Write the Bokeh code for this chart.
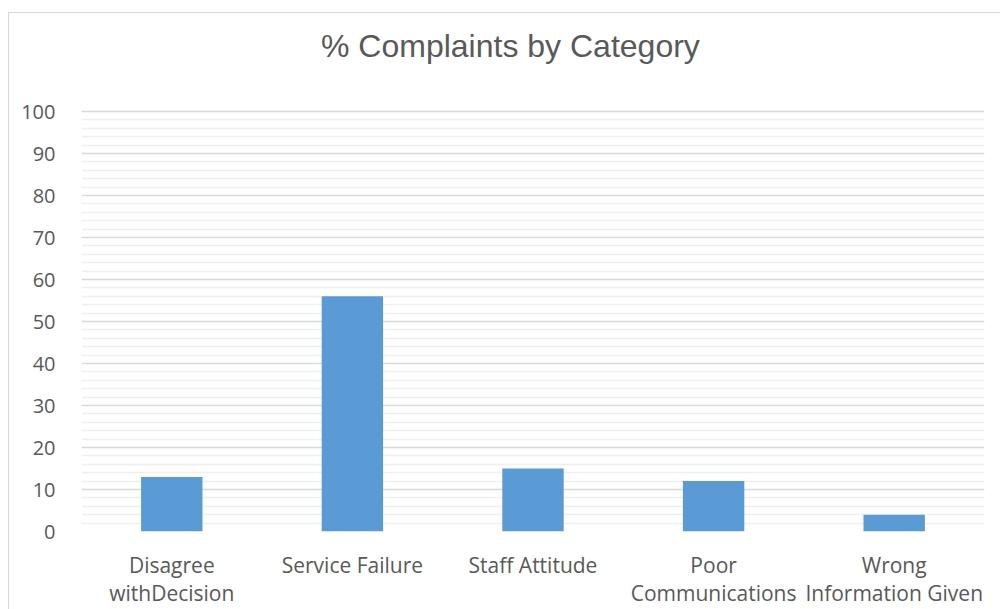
from bokeh.plotting import figure
from bokeh.models import FixedTicker, Range1d
from bokeh.embed import file_html
from bokeh.resources import INLINE

title_text = "% Complaints by Category"
categories = ["Disagree\nwithDecision", "Service Failure", "Staff Attitude",
              "Poor\nCommunications", "Wrong\nInformation Given"]
values = [13, 56, 15, 12, 4]
major_ticks = [0, 10, 20, 30, 40, 50, 60, 70, 80, 90, 100]
minor_ticks = [v for v in range(0, 101, 2) if v % 10 != 0]

# frame extends above the 100 line so the title can sit inside it
y_top = 100 * 518 / 420

p = figure(x_range=categories, y_range=Range1d(0, y_top), width=992, height=597,
           output_backend="svg", toolbar_location=None,
           min_border_left=72, min_border_right=17, min_border_top=0, min_border_bottom=79,
           margin=(12, 0, 0, 8),
           styles={"border-left": "1px solid #d9d9d9", "border-top": "1px solid #d9d9d9"})

p.vbar(x=categories, top=values, width=0.34, color="#5b9bd5", line_color=None)

p.text(x=[2.375], y=[115.5], text=[title_text], text_align="center", text_baseline="middle",
       text_font={"value": "Liberation Sans"}, text_font_size="32px", text_color="#595959")

p.outline_line_color = None
p.xgrid.grid_line_color = None
p.yaxis.ticker = FixedTicker(ticks=major_ticks, minor_ticks=minor_ticks)
p.ygrid.grid_line_color = "#d9d9d9"
p.ygrid.grid_line_width = 1.5
p.ygrid.minor_grid_line_color = "#efefef"
p.ygrid.minor_grid_line_width = 1.5

for ax in (p.xaxis, p.yaxis):
    ax.axis_line_color = None
    ax.major_tick_line_color = None
    ax.minor_tick_line_color = None
    ax.major_label_text_color = "#595959"
    ax.major_label_text_font = "Open Sans"

p.yaxis.major_label_text_font_size = "20px"
p.xaxis.major_label_text_font_size = "21px"
p.xaxis.major_label_text_line_height = 1.0
p.yaxis.major_label_standoff = 20
p.xaxis.major_label_standoff = 13

open("out.html", "w").write(file_html(p, INLINE))
